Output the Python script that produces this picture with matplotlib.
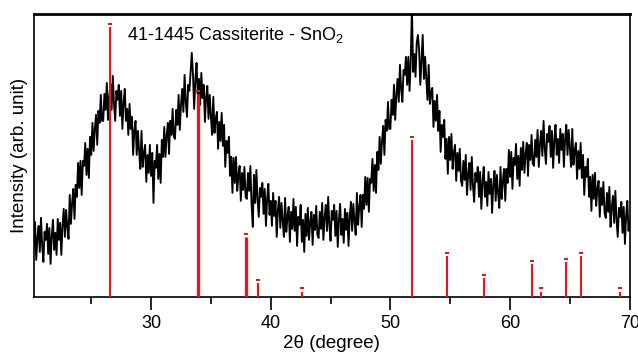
import numpy as np
import matplotlib
matplotlib.use("Agg")
import matplotlib.pyplot as plt

plt.rcParams['font.family'] = ['Liberation Sans', 'DejaVu Sans']
plt.rcParams['mathtext.fontset'] = 'custom'
plt.rcParams['mathtext.rm'] = 'Liberation Sans'

# measured pattern, 2theta from 20 to 70 in 0.1 deg steps (arb. units)
two_theta = np.round(np.arange(20.0, 70.001, 0.1), 1)
intensity = [
    41, 67, 49, 75, 37, 59, 71, 45, 79, 51, 35, 65, 57, 73, 43, 69, 33, 61, 77, 47,
    64, 42, 78, 57, 74, 42, 72, 88, 60, 87, 70, 58, 102, 73, 94, 108, 78, 112, 100, 134,
    109, 136, 102, 136, 131, 154, 122, 148, 119, 160, 142, 174, 146, 168, 182, 152, 186, 174, 202, 176,
    176, 203, 187, 214, 177, 200, 213, 187, 221, 193, 176, 206, 197, 212, 181, 206, 168, 194, 208, 176,
    188, 162, 193, 168, 180, 142, 166, 176, 142, 166, 146, 128, 166, 130, 144, 152, 115, 142, 124, 152,
    121, 144, 94, 136, 129, 152, 118, 143, 114, 157, 140, 170, 140, 161, 174, 143, 176, 162, 188, 160,
    158, 187, 172, 202, 167, 192, 208, 185, 222, 195, 180, 212, 206, 224, 244, 223, 188, 217, 234, 203,
    218, 192, 224, 199, 212, 175, 200, 211, 178, 202, 181, 162, 200, 164, 178, 185, 148, 175, 156, 184,
    151, 172, 130, 156, 144, 160, 121, 140, 104, 139, 114, 140, 106, 122, 131, 96, 124, 107, 130, 100,
    98, 124, 106, 131, 92, 70, 122, 94, 127, 97, 80, 109, 100, 114, 83, 108, 71, 98, 113, 82,
    96, 71, 104, 81, 96, 60, 87, 100, 69, 94, 76, 60, 99, 65, 80, 90, 55, 85, 68, 98,
    66, 90, 51, 80, 72, 92, 55, 77, 45, 83, 61, 89, 57, 75, 85, 52, 82, 67, 91, 62,
    59, 85, 68, 94, 57, 79, 92, 66, 100, 72, 56, 86, 77, 92, 61, 86, 50, 77, 93, 62,
    78, 54, 88, 67, 84, 51, 80, 95, 66, 93, 76, 62, 104, 72, 90, 102, 70, 102, 88, 120,
    92, 119, 85, 118, 114, 138, 106, 132, 104, 145, 127, 160, 133, 156, 171, 142, 177, 166, 195, 168,
    168, 197, 182, 212, 177, 202, 218, 195, 232, 208, 195, 227, 222, 240, 212, 240, 206, 236, 290, 225,
    243, 220, 254, 262, 247, 212, 238, 262, 218, 240, 218, 197, 232, 193, 204, 209, 170, 196, 176, 202,
    166, 186, 145, 172, 160, 177, 138, 158, 123, 160, 137, 163, 128, 144, 152, 116, 144, 126, 148, 116,
    111, 136, 117, 142, 102, 123, 134, 107, 140, 111, 95, 124, 115, 130, 100, 125, 88, 115, 130, 100,
    115, 91, 125, 103, 118, 84, 112, 126, 96, 122, 104, 89, 130, 98, 116, 128, 96, 128, 114, 147,
    120, 145, 108, 139, 132, 153, 118, 141, 111, 149, 127, 155, 124, 143, 154, 121, 152, 137, 162, 133,
    131, 157, 140, 167, 130, 153, 166, 141, 176, 148, 133, 163, 155, 171, 140, 166, 129, 157, 172, 142,
    158, 134, 168, 147, 163, 130, 158, 172, 142, 167, 148, 130, 168, 132, 146, 154, 118, 146, 128, 154,
    119, 142, 102, 130, 120, 138, 100, 120, 86, 122, 98, 124, 91, 108, 116, 80, 109, 92, 115, 84,
    79, 104, 85, 110, 70, 90, 101, 74, 106, 77, 60, 89, 80, 95, 64, 90, 53, 81, 96, 66,
    76,
]

# JCPDS 41-1445 cassiterite SnO2 reference lines
ref_pos = [26.6, 33.9, 37.95, 38.97, 42.6, 51.8, 54.75, 57.8, 61.85, 62.55, 64.7, 65.9, 69.2]
ref_int = [100, 75, 22, 5, 2, 58, 15, 7, 12, 2, 13, 15, 2]
ref_lw = [1.5, 2.4, 2.4, 1.5, 1.5, 1.5, 1.5, 1.5, 1.5, 1.5, 1.5, 1.5, 1.5]

fig = plt.figure(figsize=(6.38, 3.56), dpi=100)
ax = fig.add_axes([0.053, 0.166, 0.934, 0.795])
ax.plot(two_theta, intensity, color='black', lw=1.35)
ax.set_xlim(20.2, 70)
ax.set_ylim(0, 283)
ax.set_yticks([])
ax.set_xticks([30, 40, 50, 60, 70])
ax.set_xticks([25, 35, 45, 55, 65], minor=True)
ax.tick_params(axis='x', which='major', direction='out', length=9, width=1.2,
               labelsize=13, pad=4)
ax.tick_params(axis='x', which='minor', direction='out', length=5, width=1.2)
for s in ax.spines.values():
    s.set_linewidth(1.2)
ax.spines['top'].set_linewidth(2.0)
ax.set_xlabel('2θ (degree)', fontsize=13.5, labelpad=2)
ax.set_ylabel('Intensity (arb. unit)', fontsize=13.5, labelpad=4)

ax2 = ax.twinx()
ax2.set_ylim(0, 104.8)
ax2.set_yticks([])
for s in ax2.spines.values():
    s.set_visible(False)
ax2.vlines(ref_pos, 0, ref_int, color='#e3161b', lw=ref_lw, zorder=3)
ax2.plot(ref_pos, [v + 1.2 for v in ref_int], ls='none', marker='_',
         ms=3, mew=1.5, color='#e3161b')

ax.text(28.0, 262, '41-1445 Cassiterite - SnO$_2$', fontsize=13, va='center',
        ha='left')

fig.savefig('out.png', dpi=100)
